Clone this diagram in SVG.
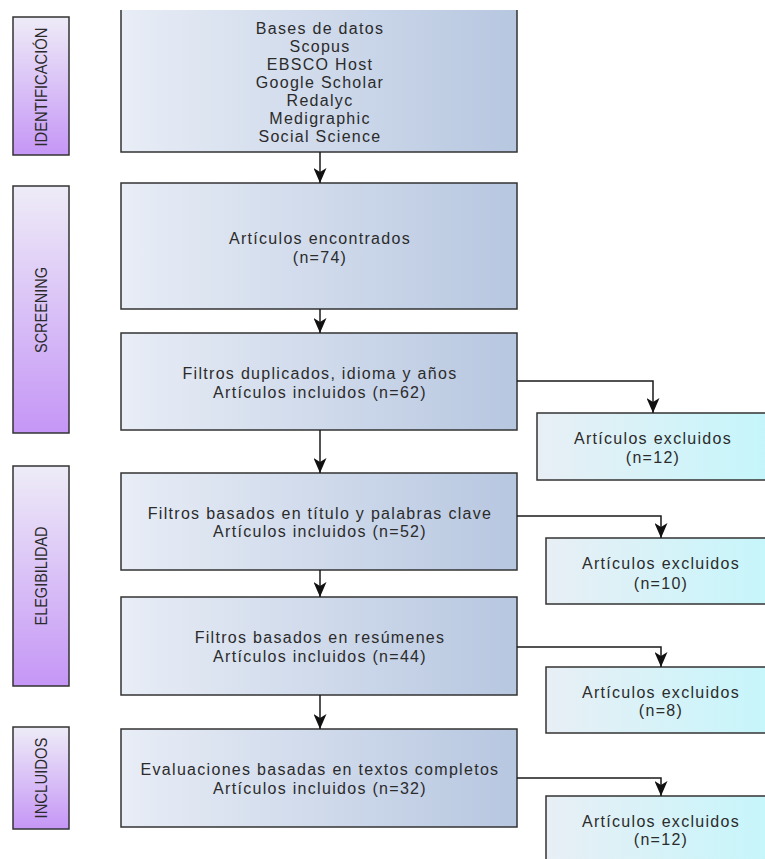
<svg xmlns="http://www.w3.org/2000/svg" width="765" height="859" viewBox="0 0 765 859">
<style>
.main{stroke:#333;stroke-width:1.5;fill:url(#gMain)}
.excl{stroke:#333;stroke-width:1.5;fill:url(#gExcl)}
.phase{stroke:#333;stroke-width:1.5;fill:url(#gPhase)}
.t{font-family:"Liberation Sans",Arial,sans-serif;font-size:16px;fill:#2b2b2b;text-anchor:middle;letter-spacing:1.3px}
.pt{font-family:"Liberation Sans",Arial,sans-serif;font-size:17px;fill:#2b2b2b;text-anchor:middle;dominant-baseline:central}
.c{fill:none;stroke:#1a1a1a;stroke-width:1.5;marker-end:url(#arr)}
</style>
<defs>
<linearGradient id="gMain" x1="0" y1="0" x2="1" y2="0">
<stop offset="0" stop-color="#e8edf6"/>
<stop offset="1" stop-color="#b7c7e0"/>
</linearGradient>
<linearGradient id="gExcl" x1="0" y1="0" x2="1" y2="0">
<stop offset="0" stop-color="#e8eff5"/>
<stop offset="1" stop-color="#c4f6fb"/>
</linearGradient>
<linearGradient id="gPhase" x1="0" y1="0" x2="0" y2="1">
<stop offset="0" stop-color="#eeecf7"/>
<stop offset="1" stop-color="#c596f6"/>
</linearGradient>
<marker id="arr" markerUnits="userSpaceOnUse" viewBox="0 0 15 13" markerWidth="15" markerHeight="13" refX="15" refY="6.5" orient="auto">
<path d="M0,0 L15,6.5 L0,13 L4,6.5 z" fill="#111"/>
</marker>
</defs>
<rect width="765" height="859" fill="#fff"/>

<g id="phase-identificacion">
<rect class="phase" x="13" y="17" width="56" height="138"/>
<text class="pt" transform="translate(41,87) rotate(-90)" textLength="119" lengthAdjust="spacingAndGlyphs">IDENTIFICACIÓN</text>
</g>
<g id="phase-screening">
<rect class="phase" x="13" y="186" width="56" height="247"/>
<text class="pt" transform="translate(41,310) rotate(-90)" textLength="86" lengthAdjust="spacingAndGlyphs">SCREENING</text>
</g>
<g id="phase-elegibilidad">
<rect class="phase" x="13" y="466" width="56" height="220"/>
<text class="pt" transform="translate(41,576) rotate(-90)" textLength="99" lengthAdjust="spacingAndGlyphs">ELEGIBILIDAD</text>
</g>
<g id="phase-incluidos">
<rect class="phase" x="13" y="727" width="56" height="102"/>
<text class="pt" transform="translate(41,778) rotate(-90)" textLength="81" lengthAdjust="spacingAndGlyphs">INCLUIDOS</text>
</g>

<g id="box-bases">
<rect x="121" y="10" width="396" height="142" fill="url(#gMain)"/>
<path d="M121,10 V152 H517 V10" fill="none" stroke="#333" stroke-width="1.5"/>
<text class="t" x="320" y="34">Bases de datos</text>
<text class="t" x="320" y="52">Scopus</text>
<text class="t" x="320" y="70">EBSCO Host</text>
<text class="t" x="320" y="88">Google Scholar</text>
<text class="t" x="320" y="106">Redalyc</text>
<text class="t" x="320" y="124">Medigraphic</text>
<text class="t" x="320" y="142">Social Science</text>
</g>
<g id="box-encontrados">
<rect class="main" x="121" y="183" width="396" height="126"/>
<text class="t" x="320" y="244">Artículos encontrados</text>
<text class="t" x="320" y="263">(n=74)</text>
</g>
<g id="box-duplicados">
<rect class="main" x="121" y="333" width="396" height="97"/>
<text class="t" x="320" y="379">Filtros duplicados, idioma y años</text>
<text class="t" x="320" y="398">Artículos incluidos (n=62)</text>
</g>
<g id="box-titulo">
<rect class="main" x="121" y="473" width="396" height="97"/>
<text class="t" x="320" y="519">Filtros basados en título y palabras clave</text>
<text class="t" x="320" y="537">Artículos incluidos (n=52)</text>
</g>
<g id="box-resumenes">
<rect class="main" x="121" y="597" width="396" height="98"/>
<text class="t" x="320" y="643">Filtros basados en resúmenes</text>
<text class="t" x="320" y="662">Artículos incluidos (n=44)</text>
</g>
<g id="box-completos">
<rect class="main" x="121" y="729" width="396" height="98"/>
<text class="t" x="320" y="775">Evaluaciones basadas en textos completos</text>
<text class="t" x="320" y="794">Artículos incluidos (n=32)</text>
</g>

<g id="excl-1">
<rect class="excl" x="537" y="413" width="235" height="67"/>
<text class="t" x="653" y="444">Artículos excluidos</text>
<text class="t" x="653" y="463">(n=12)</text>
</g>
<g id="excl-2">
<rect class="excl" x="546" y="538" width="235" height="66"/>
<text class="t" x="661" y="569">Artículos excluidos</text>
<text class="t" x="661" y="589">(n=10)</text>
</g>
<g id="excl-3">
<rect class="excl" x="546" y="667" width="235" height="66"/>
<text class="t" x="661" y="698">Artículos excluidos</text>
<text class="t" x="661" y="716">(n=8)</text>
</g>
<g id="excl-4">
<rect class="excl" x="546" y="796" width="235" height="80"/>
<text class="t" x="661" y="827">Artículos excluidos</text>
<text class="t" x="661" y="845">(n=12)</text>
</g>

<g id="connectors">
<path class="c" d="M320,152 V183"/>
<path class="c" d="M320,309 V333"/>
<path class="c" d="M320,430 V473"/>
<path class="c" d="M320,570 V597"/>
<path class="c" d="M320,695 V729"/>
<path class="c" d="M517,381 H653 V413"/>
<path class="c" d="M517,516 H661 V538"/>
<path class="c" d="M517,647 H661 V667"/>
<path class="c" d="M517,778 H661 V796"/>
</g>
</svg>
